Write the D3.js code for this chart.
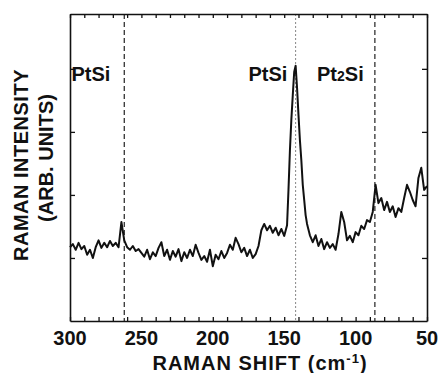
<!DOCTYPE html>
<html>
<head>
<meta charset="utf-8">
<script src="https://cdnjs.cloudflare.com/ajax/libs/d3/7.8.5/d3.min.js"></script>
<style>
  body { margin: 0; background: #fff; }
  svg text { font-family: "Liberation Sans", Arial, sans-serif; font-weight: bold; fill: #111; }
</style>
</head>
<body>
<div class="chart"></div>
<script>
// Raman shift (cm-1)
let shifts = [
  300, 298, 296, 294, 292, 290, 288, 286, 284, 282, 280, 278, 276, 274, 272, 270,
  268, 266, 264, 262, 260, 258, 256, 254, 252, 250, 248, 246, 244, 242, 240, 238,
  236, 234, 232, 230, 228, 226, 224, 222, 220, 218, 216, 214, 212, 210, 208, 206,
  204, 202, 200, 198, 196, 194, 192, 190, 188, 186, 184, 182, 180, 178, 176, 174,
  172, 170, 168, 166, 164, 162, 160, 158, 156, 154, 152, 150, 148, 147, 146, 145,
  144, 143, 142, 141, 140, 139, 138, 137, 136, 135, 134, 132, 130, 128, 126, 124,
  122, 120, 118, 116, 114, 112, 110, 108, 106, 104, 102, 100, 98, 96, 94, 92,
  90, 88, 86, 84, 82, 80, 78, 76, 74, 72, 70, 68, 66, 64, 62, 60,
  58, 56, 54, 52, 50
];

// intensity (arb. units)
let intensity = [
  1.17, 1.22, 1.13, 1.24, 1.14, 1.19, 1.05, 1.13, 1.00, 1.17, 1.28, 1.16, 1.24, 1.17, 1.27, 1.19,
  1.24, 1.17, 1.57, 1.28, 1.17, 1.13, 1.19, 1.11, 1.14, 1.08, 1.02, 1.13, 0.98, 1.09, 1.03, 1.16,
  1.25, 1.03, 1.13, 0.97, 1.11, 1.02, 1.14, 0.95, 1.09, 1.00, 1.13, 1.03, 1.21, 1.08, 0.97, 1.03,
  0.94, 1.13, 0.87, 1.05, 0.98, 1.11, 1.00, 1.08, 1.21, 1.13, 1.32, 1.22, 1.09, 1.16, 1.03, 1.13,
  1.00, 1.06, 1.19, 1.44, 1.54, 1.44, 1.51, 1.40, 1.48, 1.36, 1.46, 1.35, 1.52, 2.08, 2.70, 3.19,
  3.58, 3.95, 4.05, 3.70, 3.27, 2.87, 2.55, 2.16, 1.92, 1.68, 1.54, 1.36, 1.25, 1.36, 1.19, 1.30,
  1.14, 1.25, 1.16, 1.22, 1.13, 1.38, 1.73, 1.57, 1.28, 1.35, 1.25, 1.41, 1.36, 1.51, 1.46, 1.60,
  1.57, 1.73, 2.16, 1.87, 1.95, 1.76, 1.89, 1.73, 1.82, 1.65, 1.79, 1.73, 1.95, 2.16, 2.05, 1.92,
  1.82, 2.27, 2.43, 2.08, 2.14
];

// Raman line positions marked on the figure
let markerShifts = [262, 142, 86.5];
let markerLabels = [
  { text: "PtSi", at: 299 },
  { text: "PtSi", at: 175 },
  { text: "Pt2Si", at: 127 }
];

let xTickLabels = [300, 250, 200, 150, 100, 50];
let yTicks = [1, 2, 3, 4];

let width = 441,
  height = 373,
  padLeft = 70,
  padRight = 427,
  padTop = 14,
  padBottom = 321;

let svg = d3
  .select(".chart")
  .append("svg")
  .attr("width", width)
  .attr("height", height);

let xScale = d3.scaleLinear().domain([300, 50]).range([padLeft, padRight]);
let yScale = d3.scaleLinear().domain([0, 4.87]).range([padBottom, padTop]);

// marker lines
svg
  .selectAll("line.marker")
  .data(markerShifts)
  .enter()
  .append("line")
  .attr("class", "marker")
  .attr("x1", (d) => xScale(d))
  .attr("x2", (d) => xScale(d))
  .attr("y1", padTop)
  .attr("y2", padBottom)
  .attr("stroke", (d, i) => (i == 1 ? "#777" : "#222"))
  .attr("stroke-width", (d, i) => (i == 1 ? 0.9 : 1.2))
  .attr("stroke-dasharray", (d, i) => (i == 1 ? "2,2" : "5,3"));

// axes, ticks pointing inward
let minorTicks = d3.range(300, 49, -10);

svg
  .append("g")
  .attr("transform", "translate(0," + padBottom + ")")
  .call(d3.axisBottom(xScale).tickValues(minorTicks).tickSizeInner(-4).tickSizeOuter(0).tickFormat(""));
svg
  .append("g")
  .attr("transform", "translate(0," + padTop + ")")
  .call(d3.axisTop(xScale).tickValues(minorTicks).tickSizeInner(-4).tickSizeOuter(0).tickFormat(""));
svg
  .append("g")
  .attr("transform", "translate(" + padLeft + ",0)")
  .call(d3.axisLeft(yScale).tickValues(yTicks).tickSizeInner(-5).tickSizeOuter(0).tickFormat(""));
svg
  .append("g")
  .attr("transform", "translate(" + padRight + ",0)")
  .call(d3.axisRight(yScale).tickValues(yTicks).tickSizeInner(-5).tickSizeOuter(0).tickFormat(""));

svg.selectAll(".domain").attr("stroke", "#111").attr("stroke-width", 1.6);
svg.selectAll(".tick line").attr("stroke", "#111").attr("stroke-width", 1.3);

// x tick labels
svg
  .selectAll("text.xlab")
  .data(xTickLabels)
  .enter()
  .append("text")
  .attr("class", "xlab")
  .attr("x", (d) => xScale(d))
  .attr("y", 345)
  .attr("text-anchor", "middle")
  .style("font-size", "20px")
  .text((d) => d);

// spectrum
let line = d3
  .line()
  .x((d, i) => xScale(shifts[i]))
  .y((d) => yScale(d));

svg
  .append("path")
  .datum(intensity)
  .attr("d", line)
  .attr("fill", "none")
  .attr("stroke", "#111")
  .attr("stroke-width", 2)
  .attr("stroke-linejoin", "round");

// phase labels
markerLabels.forEach((m) => {
  let t = svg
    .append("text")
    .attr("x", xScale(m.at))
    .attr("y", 81)
    .style("font-size", "20px");
  if (m.text == "Pt2Si") {
    t.append("tspan").text("Pt");
    t.append("tspan").style("font-size", "14px").text("2");
    t.append("tspan").text("Si");
  } else {
    t.text(m.text);
  }
});

// axis titles
let xTitle = svg
  .append("text")
  .attr("x", 260)
  .attr("y", 370)
  .attr("text-anchor", "middle")
  .style("font-size", "20px")
  .style("letter-spacing", "1px");
xTitle.append("tspan").text("RAMAN SHIFT (cm");
xTitle.append("tspan").attr("dy", -7).style("font-size", "13px").text("-1");
xTitle.append("tspan").attr("dy", 7).text(")");

svg
  .append("text")
  .attr("transform", "translate(28,165) rotate(-90)")
  .attr("text-anchor", "middle")
  .style("font-size", "20px")
  .style("letter-spacing", "0.5px")
  .text("RAMAN INTENSITY");
svg
  .append("text")
  .attr("transform", "translate(53,158) rotate(-90)")
  .attr("text-anchor", "middle")
  .style("font-size", "20px")
  .text("(ARB. UNITS)");
</script>
</body>
</html>
